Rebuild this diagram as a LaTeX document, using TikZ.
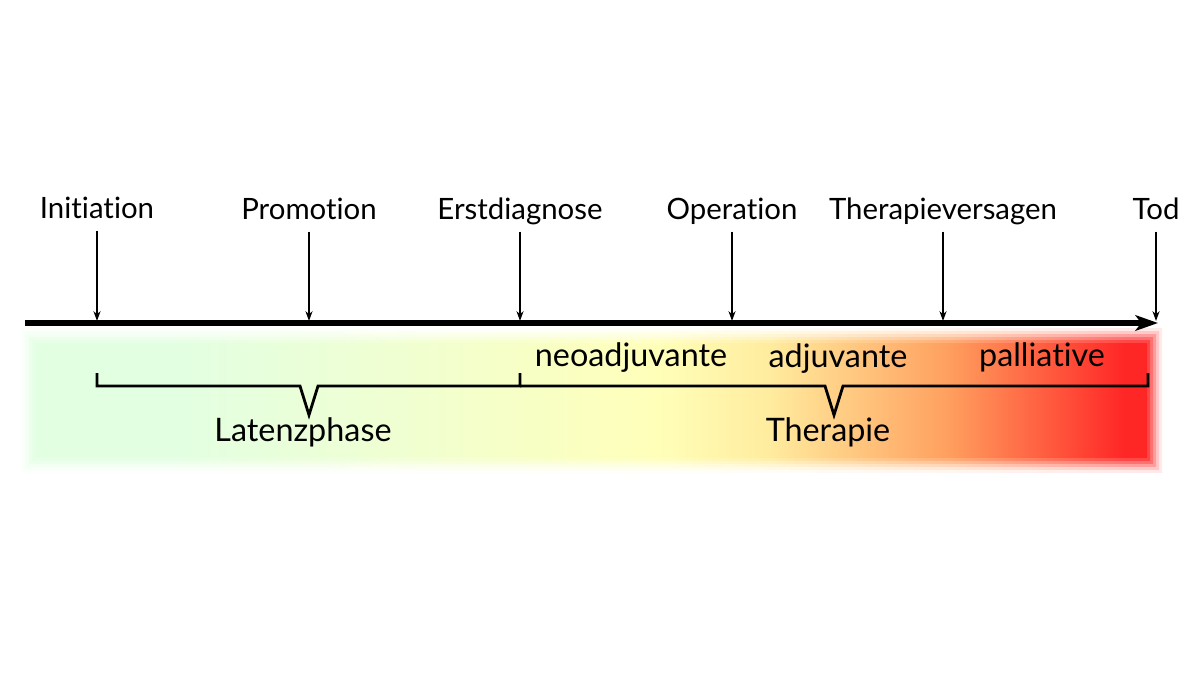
\documentclass[tikz,border=0pt]{standalone}
\usepackage{fontspec}
\setmainfont{Lato}[Ligatures=NoCommon]
\usetikzlibrary{arrows.meta}

\definecolor{lowrisk}{RGB}{226,255,226}
\definecolor{earlyrisk}{RGB}{238,255,212}
\definecolor{midrisk}{RGB}{255,255,185}
\definecolor{lateyellow}{RGB}{255,236,158}
\definecolor{orangerisk}{RGB}{255,160,95}
\definecolor{highrisk}{RGB}{255,38,38}
% #1 name, #2 percentage of colour against white
\newcommand\riskshading[2]{%
  \pgfdeclarehorizontalshading{#1}{100bp}{color(0bp)=(lowrisk!#2!white); color(25bp)=(lowrisk!#2!white);
    color(31bp)=(lowrisk!#2!white); color(40bp)=(earlyrisk!#2!white); color(53bp)=(midrisk!#2!white);
    color(58bp)=(lateyellow!#2!white); color(66bp)=(orangerisk!#2!white); color(74bp)=(highrisk!#2!white);
    color(100bp)=(highrisk!#2!white)}}
\riskshading{riskA}{10}
\riskshading{riskB}{25}
\riskshading{riskC}{45}
\riskshading{riskD}{65}
\riskshading{riskE}{85}
\riskshading{riskF}{100}

\begin{document}
\begin{tikzpicture}[x=0.025cm,y=-0.025cm,>={Stealth[length=7pt,width=5pt]},
  event/.style={font=\fontsize{20.9}{24}\selectfont,anchor=base,text depth=0pt,inner ysep=8pt},
  phase/.style={font=\fontsize{23}{27}\selectfont,anchor=base,inner sep=0pt},
  axis/.style={line width=3.6pt,-{Stealth[length=16pt,width=11pt,inset=4pt]}},
  brace/.style={line width=2pt,line join=miter},
  pointer/.style={->,line width=1.2pt}]
  \useasboundingbox (0,0) rectangle (1200,675);

  % shaded band under the time axis, soft edges
  \foreach \s [count=\i from 0] in {riskA,riskB,riskC,riskD,riskE,riskF}
    \fill[shading=\s] (20+3*\i,328+3*\i) rectangle (1162-3*\i,472-3*\i);

  % time axis
  \coordinate (start) at (25,323);
  \coordinate (end) at (1158,323);
  \draw[axis] (start) -- (end);

  % events
  \coordinate (t1) at (97,321);
  \coordinate (t2) at (309,321);
  \coordinate (t3) at (520,321);
  \coordinate (t4) at (732,321);
  \coordinate (t5) at (943,321);
  \coordinate (t6) at (1156,321);
  \node[event] (ini) at (97,219) {Initiation};
  \node[event] (pro) at (309,220) {Promotion};
  \node[event] (dia) at (520,220) {Erstdiagnose};
  \node[event] (op) at (732,220) {Operation};
  \node[event] (fail) at (943,220) {Therapieversagen};
  \node[event] (tod) at (1156,220) {Tod};

  \path[pointer]
    (ini) edge (t1)
    (pro) edge (t2)
    (dia) edge (t3)
    (op) edge (t4)
    (fail) edge (t5)
    (tod) edge (t6)
    ;

  % braces
  \draw[brace] (97,373) -- (97,386) -- (300,386) -- (309,415) -- (318,386) -- (520,386) -- (520,373);
  \draw[brace] (520,386) -- (825,386) -- (834,415) -- (843,386) -- (1148,386) -- (1148,373);

  % phases
  \node[phase] (neo) at (631,366) {neoadjuvante};
  \node[phase] (adj) at (838,367) {adjuvante};
  \node[phase] (pal) at (1042,366) {palliative};
  \node[phase] (lat) at (303,441) {Latenzphase};
  \node[phase] (ther) at (828,441) {Therapie};
\end{tikzpicture}
\end{document}
